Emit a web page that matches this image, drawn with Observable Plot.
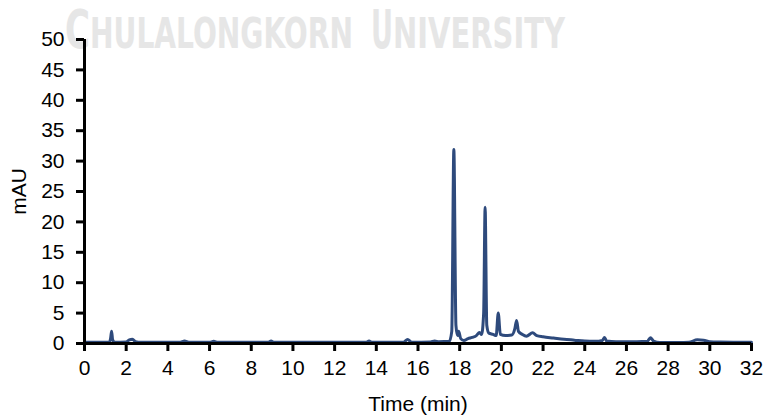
<!DOCTYPE html>
<html>
<head>
<meta charset="utf-8">
<script src="https://cdn.jsdelivr.net/npm/d3@7"></script>
<script src="https://cdn.jsdelivr.net/npm/@observablehq/plot@0.6"></script>
<style>
  html, body { margin: 0; padding: 0; background: #fff; }
  #chart svg { display: block; }
</style>
</head>
<body>
<div id="chart"></div>
<script>
// Chromatogram readings (time in min, absorbance in mAU)
const times = [
  0, 1.2, 1.25, 1.3, 1.35, 1.45, 2.0, 2.15, 2.3, 2.45, 2.7,
  4.6, 4.8, 5.0, 6.0, 6.2, 6.4, 8.8, 8.95, 9.1,
  13.5, 13.65, 13.8, 15.3, 15.5, 15.7, 16.6, 16.8, 17.0, 17.5,
  17.62, 17.72, 17.82, 17.9, 17.95, 18.05, 18.2, 18.4, 18.6, 18.8, 18.95,
  19.05, 19.15, 19.22, 19.3, 19.4, 19.6, 19.75, 19.85, 19.95,
  20.2, 20.5, 20.65, 20.73, 20.82, 21.0, 21.2, 21.5, 21.7,
  22.0, 22.5, 23.0, 23.5, 24.0, 24.5, 24.85, 24.95, 25.05, 25.5,
  26.5, 27.0, 27.15, 27.3, 27.6, 28.5, 29.0, 29.4, 29.7, 30.0, 30.5, 32
];
const mAU = [
  0.2, 0.2, 0.8, 2.0, 0.6, 0.2, 0.25, 0.6, 0.7, 0.3, 0.2,
  0.2, 0.4, 0.2, 0.2, 0.35, 0.2, 0.2, 0.4, 0.2,
  0.2, 0.4, 0.2, 0.2, 0.65, 0.2, 0.25, 0.4, 0.3, 0.35,
  2.0, 31.9, 3.0, 1.3, 2.0, 0.8, 0.5, 0.8, 1.0, 1.3, 1.8,
  1.5, 5.0, 22.4, 3.0, 1.7, 1.5, 1.3, 5.0, 1.5,
  1.3, 1.4, 2.5, 3.8, 2.0, 1.5, 1.2, 1.75, 1.3,
  1.1, 0.9, 0.7, 0.55, 0.4, 0.35, 0.5, 1.0, 0.4, 0.3,
  0.3, 0.35, 0.95, 0.4, 0.15, 0.15, 0.2, 0.6, 0.55, 0.3, 0.25, 0.2
];
const xTicks = d3.range(0, 33, 2);
const yTicks = d3.range(0, 51, 5);
const xLabel = "Time (min)";
const yLabel = "mAU";
const watermark = [
  {t: "C", x0: 65, x1: 90, big: true},
  {t: "HULALONGKORN", x0: 90, x1: 353, big: false},
  {t: "U", x0: 371, x1: 393, big: true},
  {t: "NIVERSITY", x0: 393, x1: 565, big: false}
];

const data = times.map((t, i) => ({time: t, value: mAU[i]}));

const chart = Plot.plot({
  width: 768,
  height: 416,
  marginLeft: 84,
  marginRight: 17,
  marginTop: 39,
  marginBottom: 73,
  style: {fontFamily: "'Liberation Sans', Arial, sans-serif", fontSize: "21px", color: "#000", background: "#fff"},
  x: {domain: [0, 32]},
  y: {domain: [0, 50]},
  marks: [
    Plot.line(data, {x: "time", y: "value", stroke: "#2e4a7c", strokeWidth: 3, curve: "monotone-x"}),
    Plot.ruleY([0], {stroke: "#000", strokeWidth: 3}),
    Plot.ruleX([0], {stroke: "#000", strokeWidth: 3}),
    Plot.axisX({ticks: xTicks, tickSize: 8, strokeWidth: 3, tickPadding: 9, stroke: "#000", fill: "#000", fontSize: 21,
      label: xLabel, labelAnchor: "center", labelArrow: "none", labelOffset: 67}),
    Plot.axisY({ticks: yTicks, tickSize: 8, strokeWidth: 3, tickPadding: 12, stroke: "#000", fill: "#000", fontSize: 21,
      label: yLabel, labelAnchor: "center", labelArrow: "none", labelOffset: 73})
  ]
});

// background watermark text, placed behind the chart
const svg = d3.select(chart);
const g = svg.insert("g", ":first-child").attr("fill", "#e6e6e6")
  .attr("text-anchor", "start")
  .attr("font-family", "'Liberation Sans Narrow', 'DejaVu Sans Condensed', sans-serif")
  .attr("font-weight", "bold");
for (const w of watermark) {
  g.append("text")
    .attr("x", w.x0).attr("y", 48)
    .attr("font-size", w.big ? 54 : 42)
    .attr("textLength", w.x1 - w.x0)
    .attr("lengthAdjust", "spacingAndGlyphs")
    .text(w.t);
}

document.getElementById("chart").appendChild(chart);
</script>
</body>
</html>
